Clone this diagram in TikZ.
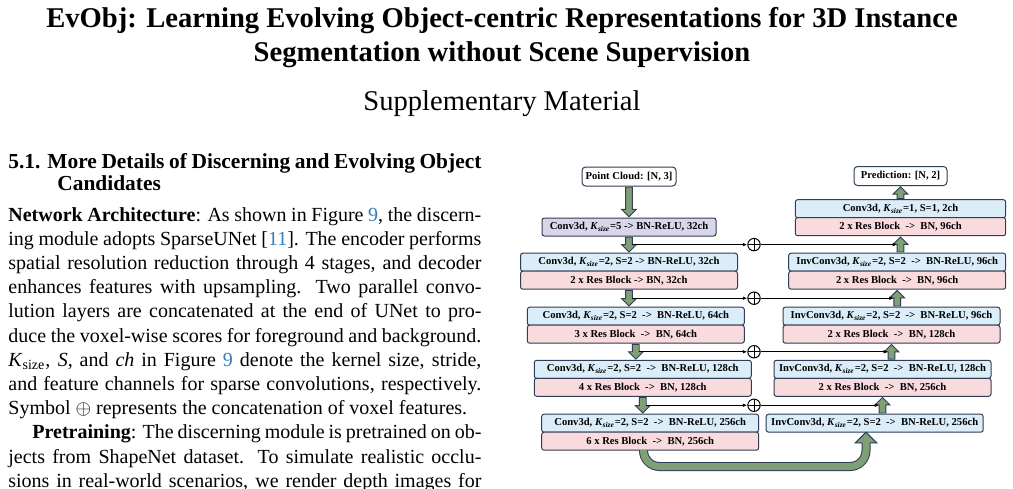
\documentclass[tikz,border=0pt]{standalone}
\usepackage{fontspec}
\setmainfont{Liberation Serif}
\usetikzlibrary{positioning,calc,arrows.meta}

\definecolor{citeblue}{RGB}{54,125,189}
\definecolor{boxline}{HTML}{2F3D55}
\definecolor{convblue}{HTML}{DAEDF8}
\definecolor{respink}{HTML}{F9DADD}
\definecolor{stemviolet}{HTML}{D9D5EA}
\definecolor{arrowgreen}{HTML}{7F9F77}

\newcommand{\boxfont}{\fontsize{5.3}{6}\selectfont\bfseries}
\newcommand{\ks}{\textit{K}\textsubscript{\textit{size}}}

% fat block arrows between stages (start, tip)
\newcommand{\fatdown}[2]{%
  \filldraw[fatarrow] let \p1=#1, \p2=#2 in
    ({\x1-1.7pt},{\y1-0.6pt}) -- ({\x1-1.7pt},{\y2+4.3pt}) -- ({\x1-3.7pt},{\y2+4.3pt})
    -- (\x1,{\y2+0.6pt}) -- ({\x1+3.7pt},{\y2+4.3pt}) -- ({\x1+1.7pt},{\y2+4.3pt})
    -- ({\x1+1.7pt},{\y1-0.6pt}) -- cycle;}
\newcommand{\fatup}[2]{%
  \filldraw[fatarrow] let \p1=#1, \p2=#2 in
    ({\x1-1.7pt},{\y1+0.6pt}) -- ({\x1-1.7pt},{\y2-4.3pt}) -- ({\x1-3.7pt},{\y2-4.3pt})
    -- (\x1,{\y2-0.6pt}) -- ({\x1+3.7pt},{\y2-4.3pt}) -- ({\x1+1.7pt},{\y2-4.3pt})
    -- ({\x1+1.7pt},{\y1+0.6pt}) -- cycle;}

\begin{document}
\begin{tikzpicture}[x=0.5pt, y=-0.5pt,
  box/.style={draw=boxline, line width=0.5pt, rounded corners=1.2pt, inner sep=0pt,
    outer sep=0pt, minimum height=9pt, font=\boxfont},
  convbox/.style={box, fill=convblue, minimum width=108.5pt},
  resbox/.style={box, fill=respink, minimum width=108.5pt},
  iobox/.style={box, fill=white, minimum height=9.5pt, rounded corners=1.8pt},
  fatarrow/.style={draw=boxline, line width=0.45pt, fill=arrowgreen},
  skip/.style={line width=0.5pt, -{Latex[length=2.2pt,width=1.8pt]}},
  oplus/.style={circle, draw, line width=0.5pt, minimum size=6.2pt, inner sep=0pt,
    path picture={\draw[line width=0.5pt]
      (path picture bounding box.north) -- (path picture bounding box.south)
      (path picture bounding box.west) -- (path picture bounding box.east);}},
  body/.style={anchor=base west, inner sep=0pt, text width=236.5pt, align=justify,
    font=\fontsize{10}{12.1}\selectfont}]
  \path[fill=white] (0,0) rectangle (1013,488);
  \useasboundingbox (0,0) rectangle (1013,488);

  % Title
  \node[anchor=base, inner sep=0pt, font=\fontsize{14.3}{17}\selectfont\bfseries] (title1) at (502,27)
    {EvObj: Learning Evolving Object-centric Representations for 3D Instance};
  \node[anchor=base, inner sep=0pt, font=\fontsize{14.3}{17}\selectfont\bfseries] (title2) at (502,61)
    {Segmentation without Scene Supervision};
  \node[anchor=base, inner sep=0pt, font=\fontsize{14.3}{17}\selectfont] (subtitle) at (502,110)
    {Supplementary Material};

  % Section text
  \node[anchor=base west, inner sep=0pt, font=\fontsize{10.7}{13}\selectfont\bfseries] (sec1) at (8,168)
    {\makebox[236.5pt][s]{5.1. More Details of Discerning and Evolving Object}};
  \node[anchor=base west, inner sep=0pt, font=\fontsize{10.7}{13}\selectfont\bfseries] (sec2) at (57,190)
    {Candidates};
  \node[body] (text) at (8,221) {%
    \textbf{Network Architecture}: As shown in Figure \textcolor{citeblue}{9}, the discern-\linebreak
    ing module adopts SparseUNet [\textcolor{citeblue}{11}]. The encoder performs\linebreak
    spatial resolution reduction through 4 stages, and decoder\linebreak
    enhances features with upsampling. Two parallel convo-\linebreak
    lution layers are concatenated at the end of UNet to pro-\linebreak
    duce the voxel-wise scores for foreground and background.\linebreak
    \textit{K}\textsubscript{size}, \textit{S}, and \textit{ch} in Figure \textcolor{citeblue}{9} denote the kernel size, stride,\linebreak
    and feature channels for sparse convolutions, respectively.\linebreak
    Symbol $\oplus$ represents the concatenation of voxel features.\par
    {\parfillskip=0pt \hspace*{12pt}\textbf{Pretraining}: The discerning module is pretrained on ob-\linebreak
    jects from ShapeNet dataset. To simulate realistic occlu-\linebreak
    sions in real-world scenarios, we render depth images for\par}};

  % Encoder
  \node[iobox, minimum width=47pt] (pcloud) at (629,176.5) {Point Cloud: [N, 3]};
  \node[box, fill=stemviolet, minimum width=87pt] (stem) at (629,227) {Conv3d, \ks=5 -> BN-ReLU, 32ch};
  \node[convbox] (enc1) at (629,262.2) {Conv3d, \ks=2, S=2 -> BN-ReLU, 32ch};
  \node[resbox, below=0pt of enc1] (enc1r) {2 x Res Block -> BN, 32ch};
  \node[convbox] (enc2) at (635.8,316.2) {Conv3d, \ks=2, S=2\ \ ->\ \ BN-ReLU, 64ch};
  \node[resbox, below=0pt of enc2] (enc2r) {3 x Res Block\ \ ->\ \ BN, 64ch};
  \node[convbox] (enc3) at (642.8,369.3) {Conv3d, \ks=2, S=2\ \ ->\ \ BN-ReLU, 128ch};
  \node[resbox, below=0pt of enc3] (enc3r) {4 x Res Block\ \ ->\ \ BN, 128ch};
  \node[convbox] (enc4) at (650.2,423.2) {Conv3d, \ks=2, S=2\ \ ->\ \ BN-ReLU, 256ch};
  \node[resbox, below=0pt of enc4] (enc4r) {6 x Res Block\ \ ->\ \ BN, 256ch};

  % Decoder
  \node[iobox, minimum width=46.5pt] (pred) at (900.5,176) {Prediction: [N, 2]};
  \node[convbox, minimum width=105.2pt] (head) at (900.5,208.7) {Conv3d, \ks=1, S=1, 2ch};
  \node[resbox, minimum width=105.2pt, below=0pt of head] (headr) {2 x Res Block\ \ ->\ \ BN, 96ch};
  \node[convbox] (dec1) at (897.2,262.2) {InvConv3d, \ks=2, S=2\ \ ->\ \ BN-ReLU, 96ch};
  \node[resbox, below=0pt of dec1] (dec1r) {2 x Res Block\ \ ->\ \ BN, 96ch};
  \node[convbox] (dec2) at (891.5,316.2) {InvConv3d, \ks=2, S=2\ \ ->\ \ BN-ReLU, 96ch};
  \node[resbox, below=0pt of dec2] (dec2r) {2 x Res Block\ \ ->\ \ BN, 128ch};
  \node[convbox] (dec3) at (882.5,369.3) {InvConv3d, \ks=2, S=2\ \ ->\ \ BN-ReLU, 128ch};
  \node[resbox, below=0pt of dec3] (dec3r) {2 x Res Block\ \ ->\ \ BN, 256ch};
  \node[convbox] (dec4) at (874.7,423.2) {InvConv3d, \ks=2, S=2\ \ ->\ \ BN-ReLU, 256ch};

  % Stage arrows
  \fatdown{(pcloud.south)}{(pcloud.south |- stem.north)}
  \fatdown{(stem.south)}{(stem.south |- enc1.north)}
  \fatdown{(enc1r.south)}{(enc1r.south |- enc2.north)}
  \fatdown{(enc2r.south)}{(enc2r.south |- enc3.north)}
  \fatdown{(enc3r.south)}{(enc3r.south |- enc4.north)}
  \fatup{(dec3r.south |- dec4.north)}{(dec3r.south)}
  \fatup{(dec2r.south |- dec3.north)}{(dec2r.south)}
  \fatup{(dec1r.south |- dec2.north)}{(dec1r.south)}
  \fatup{(headr.south |- dec1.north)}{(headr.south)}
  \fatup{(pred.south |- head.north)}{(pred.south)}

  % Skip connections
  \coordinate (catx) at (754,0);
  \foreach \src/\dst/\up [count=\i] in {stem/enc1/headr, enc1r/enc2/dec1r, enc2r/enc3/dec2r, enc3r/enc4/dec3r} {
    \coordinate (m\i) at ($(\src.south)!0.5!(\src.south |- \dst.north)$);
    \node[oplus] (cat\i) at (m\i -| catx) {};
    \draw[skip] ($(m\i)+(1.7pt,0)$) -- (cat\i);
    \draw[skip] (cat\i) -- ($(m\i -| \up.south)+(-1.7pt,0)$);
  }

  % Bottleneck arrow
  \coordinate (ulow) at (0,466.5);
  \coordinate (ustart) at ($(enc4r.south)+(-3.35pt,0)$);
  \coordinate (uend) at ($(dec4.south)+(-4.35pt,0)$);
  \draw[boxline, line width=0.5pt, double=arrowgreen, double distance=3.5pt, rounded corners=8pt]
    (ustart) -- (ustart |- ulow) -- (uend |- ulow) -- ($(uend)+(0,-5.3pt)$);
  \fill[arrowgreen] ($(uend)+(-5.4pt,-5.4pt)$) -- (uend) -- ($(uend)+(5.4pt,-5.4pt)$) -- cycle;
  \draw[boxline, line width=0.5pt] ($(uend)+(-2pt,-5.3pt)$) -- ($(uend)+(-5.4pt,-5.3pt)$) -- (uend)
    -- ($(uend)+(5.4pt,-5.3pt)$) -- ($(uend)+(2pt,-5.3pt)$);
\end{tikzpicture}
\end{document}
